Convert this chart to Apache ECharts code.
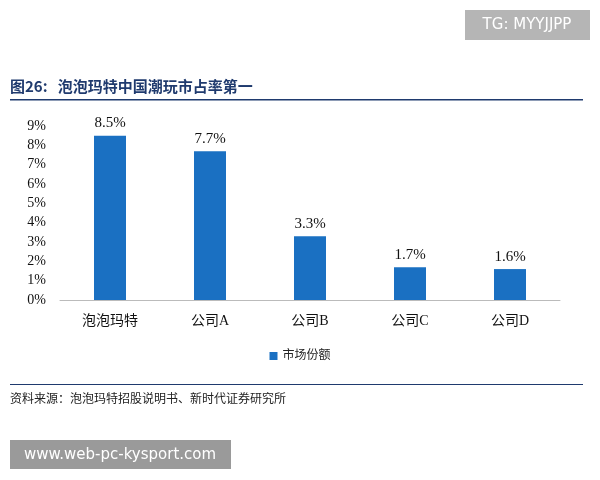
<!DOCTYPE html>
<html><head><meta charset="utf-8">
<script src="https://cdn.jsdelivr.net/npm/echarts@6/dist/echarts.min.js"></script>
<style>html,body{margin:0;padding:0;background:#fff}#c{width:600px;height:480px}</style>
</head><body><div id="c"></div>
<script>
const categories = ['泡泡玛特','公司A','公司B','公司C','公司D'];
const shareValues = [8.5, 7.7, 3.3, 1.7, 1.6];
const yTicks = [0,1,2,3,4,5,6,7,8,9];
const ff = '"Liberation Serif","Noto Sans CJK SC",serif';
const chart = echarts.init(document.getElementById('c'));
chart.setOption({
  animation:false,
  grid:{left:60,right:40,top:126,bottom:180},
  legend:{data:['市场份额'],top:345,left:'center',icon:'rect',itemWidth:8,itemHeight:8,
    textStyle:{fontFamily:ff,fontSize:12,color:'#222'}},
  xAxis:{type:'category',data:categories,
    axisLine:{lineStyle:{color:'#bbb'}},axisTick:{show:false},
    axisLabel:{fontFamily:ff,fontSize:14,color:'#111',margin:14}},
  yAxis:{type:'value',min:yTicks[0],max:yTicks[yTicks.length-1],interval:1,
    splitLine:{show:false},axisLine:{show:false},axisTick:{show:false},
    axisLabel:{formatter:'{value}%',fontFamily:ff,fontSize:14,color:'#111',margin:14}},
  series:[{name:'市场份额',type:'bar',data:shareValues,barWidth:32,
    itemStyle:{color:'#1a70c2'},
    label:{show:true,position:'top',formatter:p=>p.value.toFixed(1)+'%',
      fontFamily:ff,fontSize:15,color:'#111'}}],
  graphic:[
    {type:'rect',shape:{x:465,y:10,width:125,height:30},style:{fill:'#b5b5b5'}},
    {type:'text',x:527,y:25,style:{text:'TG: MYYJJPP',fill:'#fff',font:'15px "DejaVu Sans"',align:'center',verticalAlign:'middle'}},
    {type:'text',x:10,y:86,style:{text:'图26:   泡泡玛特中国潮玩市占率第一',fill:'#1f3a6e',font:'bold 15px "Noto Sans CJK SC"',verticalAlign:'middle'}},
    {type:'rect',shape:{x:10,y:99,width:573,height:1.5},style:{fill:'#1f3a6e'}},
    {type:'rect',shape:{x:10,y:384,width:573,height:1},style:{fill:'#1f3a6e'}},
    {type:'text',x:10,y:398,style:{text:'资料来源：泡泡玛特招股说明书、新时代证券研究所',fill:'#222',font:'12px "Noto Sans CJK SC"',verticalAlign:'middle'}},
    {type:'rect',shape:{x:10,y:440,width:221,height:29},style:{fill:'#9a9a9a'}},
    {type:'text',x:120,y:455,style:{text:'www.web-pc-kysport.com',fill:'#fff',font:'15px "DejaVu Sans"',align:'center',verticalAlign:'middle'}}
  ]
});
</script></body></html>
